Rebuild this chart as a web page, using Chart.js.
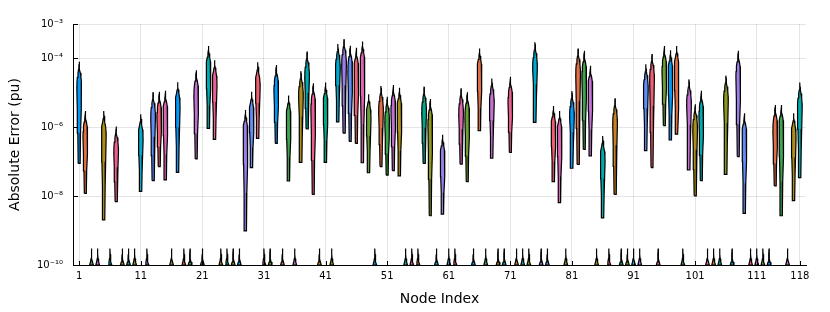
<!DOCTYPE html>
<html>
<head>
<meta charset="utf-8">
<script src="https://cdn.jsdelivr.net/npm/chart.js@4.4.0/dist/chart.umd.min.js"></script>
<style>
  html, body { margin: 0; padding: 0; background: #fff; }
</style>
</head>
<body>
<canvas id="errChart" width="830" height="312"></canvas>
<script>
// nodes that have a spread of errors (one violin each)
const violinNodes = [1, 2, 5, 7, 11, 13, 14, 15, 17, 20,
  22, 23, 28, 29, 30, 33, 35, 37, 38, 39,
  41, 43, 44, 45, 46, 47, 48, 50, 51, 52,
  53, 57, 58, 60, 63, 64, 66, 68, 71, 75,
  78, 79, 81, 82, 83, 84, 86, 88, 93, 94,
  96, 97, 98, 100, 101, 102, 106, 108, 109, 114,
  115, 117, 118];
// log10 of the largest error per node
const maxExp = [-4.10, -5.53, -5.53, -5.98, -5.62, -4.98, -4.97, -4.94, -4.69, -4.34,
  -3.64, -4.05, -5.50, -4.97, -4.11, -4.19, -5.08, -4.37, -3.80, -4.72,
  -4.70, -3.58, -3.44, -3.63, -3.69, -3.51, -5.04, -4.80, -5.11, -4.77,
  -4.85, -4.82, -5.18, -6.22, -4.87, -4.98, -3.71, -4.58, -4.53, -3.53,
  -5.38, -5.53, -4.95, -3.71, -3.78, -4.21, -6.25, -5.16, -4.17, -3.87,
  -3.64, -3.76, -3.64, -4.61, -5.33, -4.94, -4.50, -3.78, -5.59, -5.35,
  -5.35, -5.59, -4.70];
// log10 of the smallest error per node
const minExp = [-7.05, -7.92, -8.69, -8.16, -7.86, -7.55, -7.14, -7.53, -7.31, -6.92,
  -6.03, -6.35, -9.01, -7.17, -6.32, -6.47, -7.56, -7.02, -6.05, -7.95,
  -7.02, -5.84, -6.17, -6.41, -6.47, -7.03, -7.32, -7.14, -7.39, -7.26,
  -7.41, -7.05, -8.57, -8.52, -7.07, -7.58, -6.10, -6.90, -6.73, -5.86,
  -7.58, -8.19, -7.19, -7.08, -6.64, -6.83, -8.63, -7.95, -6.68, -7.17,
  -5.95, -6.37, -6.20, -7.24, -7.99, -7.55, -7.37, -6.85, -8.50, -7.70,
  -8.57, -8.13, -7.46];
// nodes whose error sits at the floor of the axis
const zeroNodes = [3, 4, 6, 8, 9, 10, 12, 16, 18, 19,
  21, 24, 25, 26, 27, 31, 32, 34, 36, 40,
  42, 49, 54, 55, 56, 59, 61, 62, 65, 67,
  69, 70, 72, 73, 74, 76, 77, 80, 85, 87,
  89, 90, 91, 92, 95, 99, 103, 104, 105, 107,
  110, 111, 112, 113, 116];
const floorExp = -10;
const floorTipExp = -9.52;

const xTicks = [1, 11, 21, 31, 41, 51, 61, 71, 81, 91, 101, 111, 118];
const yTickExp = [-10, -8, -6, -4, -3];

const palette = ['#009AFA', '#E36F47', '#3EA44E', '#C371D2', '#AC8E18', '#00AAAE', '#ED5E93', '#C68225',
  '#00A98D', '#8E971E', '#00A9CD', '#9B7FE8', '#618DF6', '#F05F73', '#DD65B6', '#6C9F33'];

const halfWidth = 0.38;

// outline of one violin: [exponent, relative half width], top down
function violinProfile(lo, hi) {
  const top = [[0, 0], [0.06, 0.05], [0.14, 0.12], [0.22, 0.25], [0.32, 0.5], [0.45, 0.78], [0.6, 0.95], [0.75, 1]];
  const body = [[0.7, 0.8], [0.4, 0.58], [0, 0.42]];
  const prof = top.map(([d, w]) => [hi - d, w]);
  const bTop = hi - 0.75;
  body.forEach(([s, w]) => prof.push([lo + s * (bTop - lo), w]));
  return prof;
}

function floorProfile() {
  const h = floorTipExp - floorExp;
  return [[0, 0], [0.35, 0.1], [0.62, 0.2], [0.82, 0.45], [1, 0.85]]
    .map(([d, w]) => [floorTipExp - d * h, w]);
}

function polygon(node, prof, hw) {
  const right = prof.map(([e, w]) => ({ x: node + w * hw, y: Math.pow(10, e) }));
  const left = prof.slice().reverse().map(([e, w]) => ({ x: node - w * hw, y: Math.pow(10, e) }));
  const pts = left.concat(right);
  pts.push(pts[0]);
  return pts;
}

const datasets = [];
violinNodes.forEach((n, i) => {
  datasets.push({ node: n, data: polygon(n, violinProfile(minExp[i], maxExp[i]), halfWidth) });
});
zeroNodes.forEach(n => {
  datasets.push({ node: n, data: polygon(n, floorProfile(), 0.36) });
});
datasets.sort((a, b) => a.node - b.node);
datasets.forEach(ds => {
  ds.showLine = true;
  ds.fill = 'shape';
  ds.backgroundColor = palette[(ds.node - 1) % palette.length];
  ds.borderColor = '#000';
  ds.borderWidth = 1.2;
  ds.pointRadius = 0;
  ds.tension = 0;
});

const sup = { '-': '\u207B', '0': '\u2070', '1': '\u00B9', '2': '\u00B2', '3': '\u00B3', '4': '\u2074',
  '5': '\u2075', '6': '\u2076', '7': '\u2077', '8': '\u2078', '9': '\u2079' };
const powLabel = e => '10' + String(e).split('').map(c => sup[c]).join('');

// short tick marks drawn inward from the axes
const innerTicks = {
  id: 'innerTicks',
  afterDraw(chart) {
    const { ctx, chartArea: a, scales: { x, y } } = chart;
    ctx.save();
    ctx.strokeStyle = '#000';
    ctx.lineWidth = 1;
    ctx.beginPath();
    x.ticks.forEach(t => {
      const px = Math.round(x.getPixelForValue(t.value)) + 0.5;
      ctx.moveTo(px, a.bottom);
      ctx.lineTo(px, a.bottom - 4);
    });
    y.ticks.forEach(t => {
      const py = Math.round(y.getPixelForValue(t.value)) + 0.5;
      ctx.moveTo(a.left, py);
      ctx.lineTo(a.left + 5, py);
    });
    ctx.stroke();
    ctx.restore();
  }
};

const font = 'DejaVu Sans';
new Chart(document.getElementById('errChart'), {
  type: 'scatter',
  data: { datasets },
  options: {
    responsive: false,
    animation: false,
    layout: { padding: { top: 24, right: 24, left: 0, bottom: 0 } },
    plugins: { legend: { display: false }, tooltip: { enabled: false } },
    scales: {
      x: {
        type: 'linear',
        min: 0,
        max: 119,
        afterFit(s) { s.height = 47; },
        afterBuildTicks(s) { s.ticks = xTicks.map(v => ({ value: v })); },
        grid: { color: 'rgba(0,0,0,0.1)', lineWidth: 1, drawTicks: false },
        border: { color: '#000', width: 1 },
        ticks: { color: '#000', font: { family: font, size: 10 }, padding: 5, maxRotation: 0, autoSkip: false },
        title: { display: true, text: 'Node Index', color: '#000', font: { family: font, size: 14 }, padding: { top: 4, bottom: 4 } }
      },
      y: {
        type: 'logarithmic',
        min: 1e-10,
        max: 1e-3,
        afterFit(s) { s.width = 73; },
        afterBuildTicks(s) { s.ticks = yTickExp.map(e => ({ value: Math.pow(10, e) })); },
        grid: { color: 'rgba(0,0,0,0.1)', lineWidth: 1, drawTicks: false },
        border: { color: '#000', width: 1 },
        ticks: {
          color: '#000', font: { family: font, size: 10 }, padding: 10, autoSkip: false,
          callback: v => powLabel(Math.round(Math.log10(v)))
        },
        title: { display: true, text: 'Absolute Error (pu)', color: '#000', font: { family: font, size: 14 }, padding: { top: 7, bottom: 7 } }
      }
    }
  },
  plugins: [innerTicks]
});
</script>
</body>
</html>
